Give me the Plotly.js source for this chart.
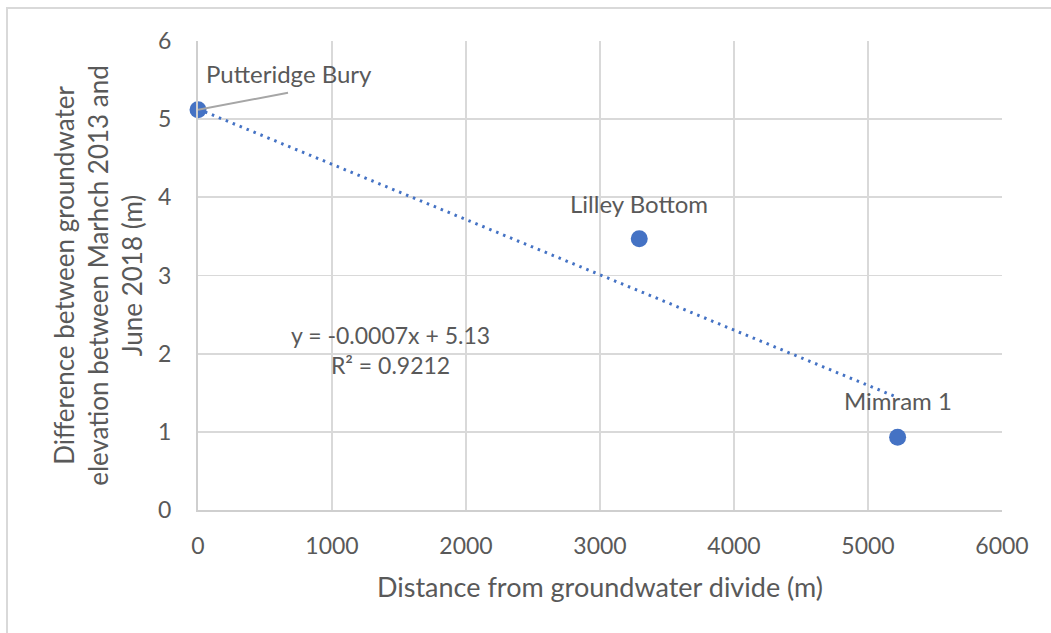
<!DOCTYPE html>
<html>
<head>
<meta charset="utf-8">
<script src="https://cdn.plot.ly/plotly-3.0.1.min.js"></script>
<style>
  html, body { margin: 0; padding: 0; background: #fff; }
  #wrap { position: relative; width: 1051px; height: 633px; overflow: hidden; }
  #chart { width: 1051px; height: 633px; }
  #frame { position: absolute; left: 6px; top: 7px; width: 1100px; height: 700px;
           border-left: 2px solid #d9d9d9; border-top: 2px solid #d9d9d9; pointer-events: none; }
</style>
</head>
<body>
<div id="wrap">
  <div id="chart"></div>
  <div id="frame"></div>
</div>
<script>
// Data
const siteNames = ["Putteridge Bury", "Lilley Bottom", "Mimram 1"];
const distance = [0, 3293, 5221];            // Distance from groundwater divide (m)
const elevDiff = [5.12, 3.47, 0.93];          // Difference in groundwater elevation (m)
const trendSlope = -0.000707;
const trendIntercept = 5.13;
const trendLabel = "y = -0.0007x + 5.13<br>R² = 0.9212";
const xTicks = [0, 1000, 2000, 3000, 4000, 5000, 6000];
const yTicks = [0, 1, 2, 3, 4, 5, 6];

const txt = "#595959";
const blue = "#4472c4";
const grid = "#d9d9d9";
const FONT = "Lato, 'Open Sans', sans-serif";

const trendX = [0, Math.max(...distance)];
const trendY = trendX.map(x => trendIntercept + trendSlope * x);

const traces = [
  {
    x: trendX, y: trendY, type: "scatter", mode: "lines",
    line: { color: blue, width: 3, dash: "2.5px,5px" },
    hoverinfo: "skip", showlegend: false
  },
  {
    x: distance, y: elevDiff, type: "scatter", mode: "markers",
    marker: { color: blue, size: 17 }, cliponaxis: false,
    text: siteNames, showlegend: false
  }
];

const annotations = [
  {
    x: distance[0], y: elevDiff[0], xref: "x", yref: "y",
    text: siteNames[0], showarrow: false, xshift: 91, yshift: 36,
    font: { family: FONT, size: 24, color: txt }
  },
  {
    x: distance[1], y: elevDiff[1], xref: "x", yref: "y",
    text: siteNames[1], showarrow: false, yshift: 35,
    font: { family: FONT, size: 24, color: txt }
  },
  {
    x: distance[2], y: elevDiff[2], xref: "x", yref: "y",
    text: siteNames[2], showarrow: false, yshift: 37,
    font: { family: FONT, size: 24, color: txt }
  },
  {
    x: 1440, y: 2.05, xref: "x", yref: "y",
    text: trendLabel, showarrow: false, align: "center",
    font: { family: FONT, size: 23, color: txt }
  }
];

// leader line for the first data label, anchored at the data point
const shapes = [
  {
    type: "line", xref: "x", yref: "y",
    xsizemode: "pixel", ysizemode: "pixel",
    xanchor: distance[0], yanchor: elevDiff[0],
    x0: 0, y0: 0, x1: 90, y1: 17,
    line: { color: "#a6a6a6", width: 2 }, layer: "above"
  }
];

const layout = {
  width: 1051, height: 633,
  margin: { l: 198, r: 49, t: 41, b: 123 },
  paper_bgcolor: "#ffffff", plot_bgcolor: "#ffffff",
  font: { family: FONT, color: txt },
  showlegend: false,
  xaxis: {
    range: [0, 6000], tickvals: xTicks, ticktext: xTicks.map(String),
    showgrid: true, gridcolor: grid, gridwidth: 1.8,
    showline: true, linecolor: "#cfcfcf", linewidth: 2,
    zeroline: false, ticks: "", ticklabelstandoff: 14,
    tickfont: { family: FONT, size: 23, color: txt },
    title: { text: "Distance from groundwater divide (m)", standoff: 21,
             font: { family: FONT, size: 27, color: txt } }
  },
  yaxis: {
    range: [0, 6], tickvals: yTicks, ticktext: yTicks.map(String),
    showgrid: true, gridcolor: grid, gridwidth: 1.8,
    showline: true, linecolor: "#cfcfcf", linewidth: 2,
    zeroline: false, ticks: "", ticklabelstandoff: 20,
    tickfont: { family: FONT, size: 23, color: txt },
    title: { text: "Difference between groundwater<br>elevation between Marhch 2013 and<br>June 2018 (m)",
             standoff: 8, font: { family: FONT, size: 26, color: txt } }
  },
  shapes: shapes,
  annotations: annotations
};

Plotly.newPlot("chart", traces, layout, { displayModeBar: false, staticPlot: true });
</script>
</body>
</html>
